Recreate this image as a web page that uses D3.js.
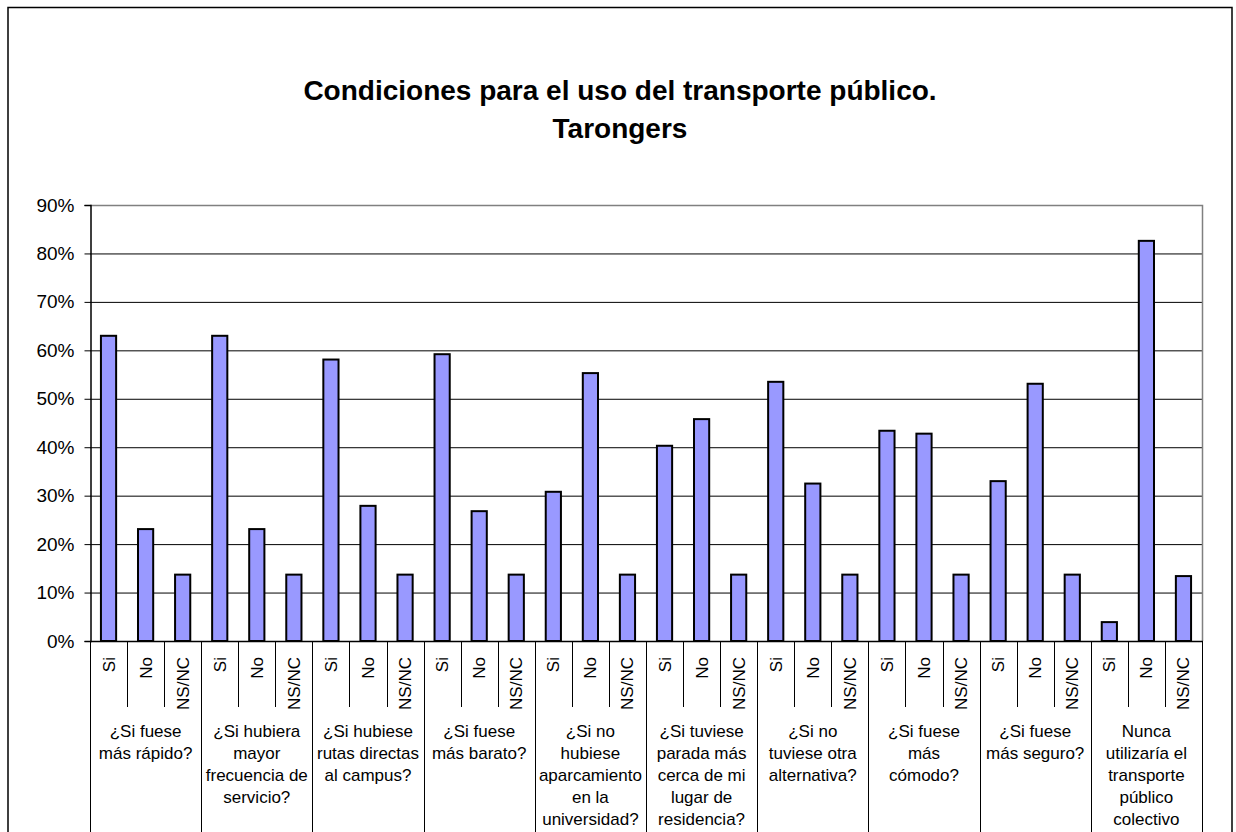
<!DOCTYPE html>
<html><head><meta charset="utf-8">
<script src="https://cdn.jsdelivr.net/npm/d3@7"></script>
<style>body{margin:0;background:#fff}svg{display:block}text{font-family:Arial,"Liberation Sans",sans-serif}</style>
</head><body>
<script>
const titleLines = ["Condiciones para el uso del transporte público.", "Tarongers"];
const groupLabels = [
  ["¿Si fuese", "más rápido?"],
  ["¿Si hubiera", "mayor", "frecuencia de", "servicio?"],
  ["¿Si hubiese", "rutas directas", "al campus?"],
  ["¿Si fuese", "más barato?"],
  ["¿Si no", "hubiese", "aparcamiento", "en la", "universidad?"],
  ["¿Si tuviese", "parada más", "cerca de mi", "lugar de", "residencia?"],
  ["¿Si no", "tuviese otra", "alternativa?"],
  ["¿Si fuese", "más", "cómodo?"],
  ["¿Si fuese", "más seguro?"],
  ["Nunca", "utilizaría el", "transporte", "público", "colectivo"]
];
const answers = ["Si", "No", "NS/NC"];
const siValues   = [63.0, 63.0, 58.1, 59.2, 30.8, 40.3, 53.5, 43.4, 33.0, 3.9];
const noValues   = [23.1, 23.1, 27.9, 26.8, 55.3, 45.8, 32.5, 42.8, 53.1, 82.6];
const nsncValues = [13.7, 13.7, 13.7, 13.7, 13.7, 13.7, 13.7, 13.7, 13.7, 13.4];
const yTicks = [0, 10, 20, 30, 40, 50, 60, 70, 80, 90];

const W = 1236, H = 832;
const svg = d3.select("body").append("svg").attr("width", W).attr("height", H);

// outer chart border
svg.append("rect").attr("x", 8).attr("y", 7.5).attr("width", 1224).attr("height", 900)
  .attr("fill", "#fff").attr("stroke", "#000").attr("stroke-width", 1.5);

const L = 90, R = 1202, T = 205, B = 641;

// build flat data
const series = [siValues, noValues, nsncValues];
const data = [];
groupLabels.forEach((g, gi) => {
  answers.forEach((a, ai) => {
    data.push({ key: gi + "-" + ai, group: gi, answer: a, value: series[ai][gi] });
  });
});

const x = d3.scaleBand().domain(data.map(d => d.key)).range([L, R]).padding(0);
const xg = d3.scaleBand().domain(groupLabels.map((d, i) => i)).range([L, R]).padding(0);
const y = d3.scaleLinear().domain([0, 90]).range([B, T]);

// title
const title = svg.append("text").attr("text-anchor", "middle")
  .attr("font-size", 28).attr("font-weight", "bold").attr("fill", "#000");
titleLines.forEach((t, i) => title.append("tspan").attr("x", 620).attr("y", 100 + i * 38).text(t));

// gridlines
svg.append("g").selectAll("line").data(yTicks.filter(v => v > 0 && v < 90)).join("line")
  .attr("x1", L).attr("x2", R).attr("y1", d => y(d) + 0.5).attr("y2", d => y(d) + 0.5)
  .attr("stroke", "#000").attr("stroke-width", 1);

// plot area top/right border
svg.append("path").attr("d", `M${L},${T + 0.5}H${R + 0.5}V${B}`)
  .attr("fill", "none").attr("stroke", "#808080").attr("stroke-width", 1.5);

// bars
const bw = x.bandwidth() * 0.41;
svg.append("g").selectAll("rect").data(data).join("rect")
  .attr("x", d => x(d.key) + (x.bandwidth() - bw) / 2)
  .attr("y", d => y(d.value))
  .attr("width", bw)
  .attr("height", d => y(0) - y(d.value))
  .attr("fill", "#9999FF").attr("stroke", "#000").attr("stroke-width", 2);

// y axis
const yAxis = d3.axisLeft(y).tickValues(yTicks).tickFormat(d => d + "%").tickSize(6).tickPadding(10);
const ya = svg.append("g").attr("transform", `translate(${L + 0.5},0)`).call(yAxis);
ya.select(".domain").attr("stroke", "#000").attr("stroke-width", 1.5);
ya.selectAll(".tick line").attr("stroke", "#000");
ya.selectAll(".tick text").attr("font-size", 19).attr("fill", "#000").attr("font-family", "Arial, 'Liberation Sans', sans-serif");

// x axis line
svg.append("line").attr("x1", L).attr("x2", R + 1).attr("y1", B + 0.5).attr("y2", B + 0.5)
  .attr("stroke", "#000").attr("stroke-width", 1.5);

// sub separators (short)
svg.append("g").selectAll("line").data(data.filter(d => !d.key.endsWith("-0"))).join("line")
  .attr("x1", d => Math.round(x(d.key)) + 0.5).attr("x2", d => Math.round(x(d.key)) + 0.5)
  .attr("y1", B).attr("y2", 707).attr("stroke", "#000").attr("stroke-width", 1);

// group separators (long)
const gEdges = groupLabels.map((d, i) => xg(i)).concat([R]);
svg.append("g").selectAll("line").data(gEdges).join("line")
  .attr("x1", d => Math.round(d) + 0.5).attr("x2", d => Math.round(d) + 0.5)
  .attr("y1", B).attr("y2", H).attr("stroke", "#000").attr("stroke-width", 1);

// sub labels (rotated)
svg.append("g").selectAll("text").data(data).join("text")
  .attr("transform", d => `translate(${x(d.key) + x.bandwidth() / 2 + 6},657) rotate(-90)`)
  .attr("text-anchor", "end").attr("font-size", 17).attr("fill", "#000")
  .text(d => d.answer);

// group labels
const gl = svg.append("g").selectAll("text").data(groupLabels).join("text")
  .attr("text-anchor", "middle").attr("font-size", 17).attr("fill", "#000");
gl.each(function (lines, i) {
  const t = d3.select(this);
  lines.forEach((ln, j) => t.append("tspan").attr("x", xg(i) + xg.bandwidth() / 2).attr("y", 737 + j * 22).text(ln));
});
</script>
</body></html>
